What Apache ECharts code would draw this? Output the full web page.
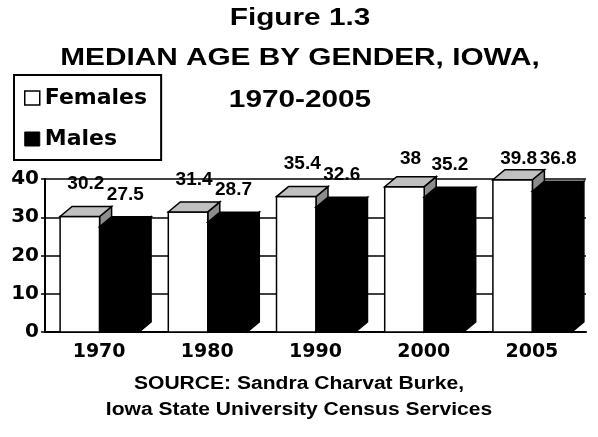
<!DOCTYPE html>
<html>
<head>
<meta charset="utf-8">
<script src="https://cdn.jsdelivr.net/npm/echarts@6/dist/echarts.min.js"></script>
<style>
  html, body { margin: 0; padding: 0; background: #fff; }
  #chart { width: 598px; height: 437px; }
</style>
</head>
<body>
<div id="chart"></div>
<script>
const years = ['1970', '1980', '1990', '2000', '2005']
const females = [30.2, 31.4, 35.4, 38, 39.8]
const males = [27.5, 28.7, 32.6, 35.2, 36.8]
const yTicks = [0, 10, 20, 30, 40]

const titleLines = ['Figure 1.3', 'MEDIAN AGE BY GENDER, IOWA,', '1970-2005']
const sourceLines = ['SOURCE: Sandra Charvat Burke,', 'Iowa State University Census Services']

const ARIAL = '"Liberation Sans", Arial, sans-serif'
const WIDE = '"DejaVu Sans", sans-serif'

// fake 3d look: a slanted top and side on every column
const DEPTH_X = 12
const DEPTH_Y = 10
const BAR_RATIO = 0.365
const LABEL_GAP = 16
const LABEL_CEIL = 165

function renderBar(side, front, top, flank) {
  return function (params, api) {
    const p = api.coord([api.value(0), api.value(1)])
    const base = api.coord([api.value(0), 0])
    const w = api.size([1, 0])[0] * BAR_RATIO
    const x0 = side === 0 ? p[0] - w + 0.5 : p[0] + 0.5
    const x1 = x0 + w
    const yt = p[1]
    const yb = base[1]
    const line = { stroke: '#000', lineWidth: 1.5 }

    return {
      type: 'group',
      children: [
        {
          type: 'polygon',
          shape: { points: [[x1, yt], [x1 + DEPTH_X, yt - DEPTH_Y], [x1 + DEPTH_X, yb - DEPTH_Y], [x1, yb]] },
          style: { fill: flank, ...line },
        },
        {
          type: 'rect',
          shape: { x: x0, y: yt, width: w, height: yb - yt },
          style: { fill: front, ...line },
        },
        {
          type: 'polygon',
          shape: { points: [[x0, yt], [x1, yt], [x1 + DEPTH_X, yt - DEPTH_Y], [x0 + DEPTH_X, yt - DEPTH_Y]] },
          style: { fill: top, ...line },
        },
        {
          type: 'text',
          z2: 20,
          style: {
            text: String(api.value(1)),
            x: (x0 + x1 + DEPTH_X) / 2,
            y: Math.max(yt - DEPTH_Y - LABEL_GAP, LABEL_CEIL) + 3,
            align: 'center',
            verticalAlign: 'bottom',
            font: 'bold 19px ' + ARIAL,
            fill: '#000',
          },
        },
      ],
    }
  }
}

const chart = echarts.init(document.getElementById('chart'), null, { renderer: 'canvas' })

chart.setOption({
  backgroundColor: '#fff',
  animation: false,
  grid: {
    left: 45,
    right: 12,
    top: 179,
    bottom: 105,
  },
  legend: {
    left: 14,
    top: 75,
    orient: 'vertical',
    icon: 'rect',
    itemWidth: 15,
    itemHeight: 14,
    itemGap: 19,
    borderColor: '#000',
    borderWidth: 2,
    padding: [12, 14, 10, 10],
    selectedMode: false,
    textStyle: {
      fontFamily: WIDE,
      fontWeight: 'bold',
      fontSize: 22,
      color: '#000',
    },
    data: [
      { name: 'Females', itemStyle: { color: '#fff', borderColor: '#000', borderWidth: 1.5 } },
      { name: 'Males', itemStyle: { color: '#000', borderColor: '#000', borderWidth: 1 } },
    ],
  },
  graphic: [
    ...titleLines.map((t, i) => ({
      type: 'text',
      x: 300,
      y: [18, 58, 100][i],
      scaleX: 1.24,
      style: {
        text: t,
        align: 'center',
        verticalAlign: 'middle',
        font: 'bold 24px ' + ARIAL,
        fill: '#000',
      },
    })),
    ...sourceLines.map((t, i) => ({
      type: 'text',
      x: 299,
      y: [384, 410][i],
      scaleX: 1.17,
      style: {
        text: t,
        align: 'center',
        verticalAlign: 'middle',
        font: 'bold 18px ' + ARIAL,
        fill: '#000',
      },
    })),
  ],
  xAxis: {
    type: 'category',
    data: years,
    axisLine: { lineStyle: { color: '#000', width: 2 } },
    axisTick: { inside: true, length: 6, interval: 0, lineStyle: { color: '#000', width: 1.5 } },
    axisLabel: {
      margin: 11,
      color: '#000',
      fontFamily: WIDE,
      fontWeight: 'bold',
      fontSize: 19,
    },
  },
  yAxis: {
    type: 'value',
    min: yTicks[0],
    max: yTicks[yTicks.length - 1],
    interval: yTicks[1] - yTicks[0],
    axisLine: { show: true, lineStyle: { color: '#000', width: 2 } },
    axisTick: { show: true, length: 4, lineStyle: { color: '#000', width: 1.5 } },
    splitLine: { lineStyle: { color: '#000', width: 1.5 } },
    axisLabel: {
      margin: 6,
      color: '#000',
      fontFamily: WIDE,
      fontWeight: 'bold',
      fontSize: 20,
    },
  },
  series: [
    {
      name: 'Females',
      type: 'custom',
      itemStyle: { color: '#fff', borderColor: '#000' },
      renderItem: renderBar(0, '#fff', '#c0c0c0', '#8c8c8c'),
      encode: { x: 0, y: 1 },
      data: females.map((v, i) => [i, v]),
    },
    {
      name: 'Males',
      type: 'custom',
      itemStyle: { color: '#000' },
      renderItem: renderBar(1, '#000', '#000', '#000'),
      encode: { x: 0, y: 1 },
      data: males.map((v, i) => [i, v]),
    },
  ],
})
</script>
</body>
</html>
